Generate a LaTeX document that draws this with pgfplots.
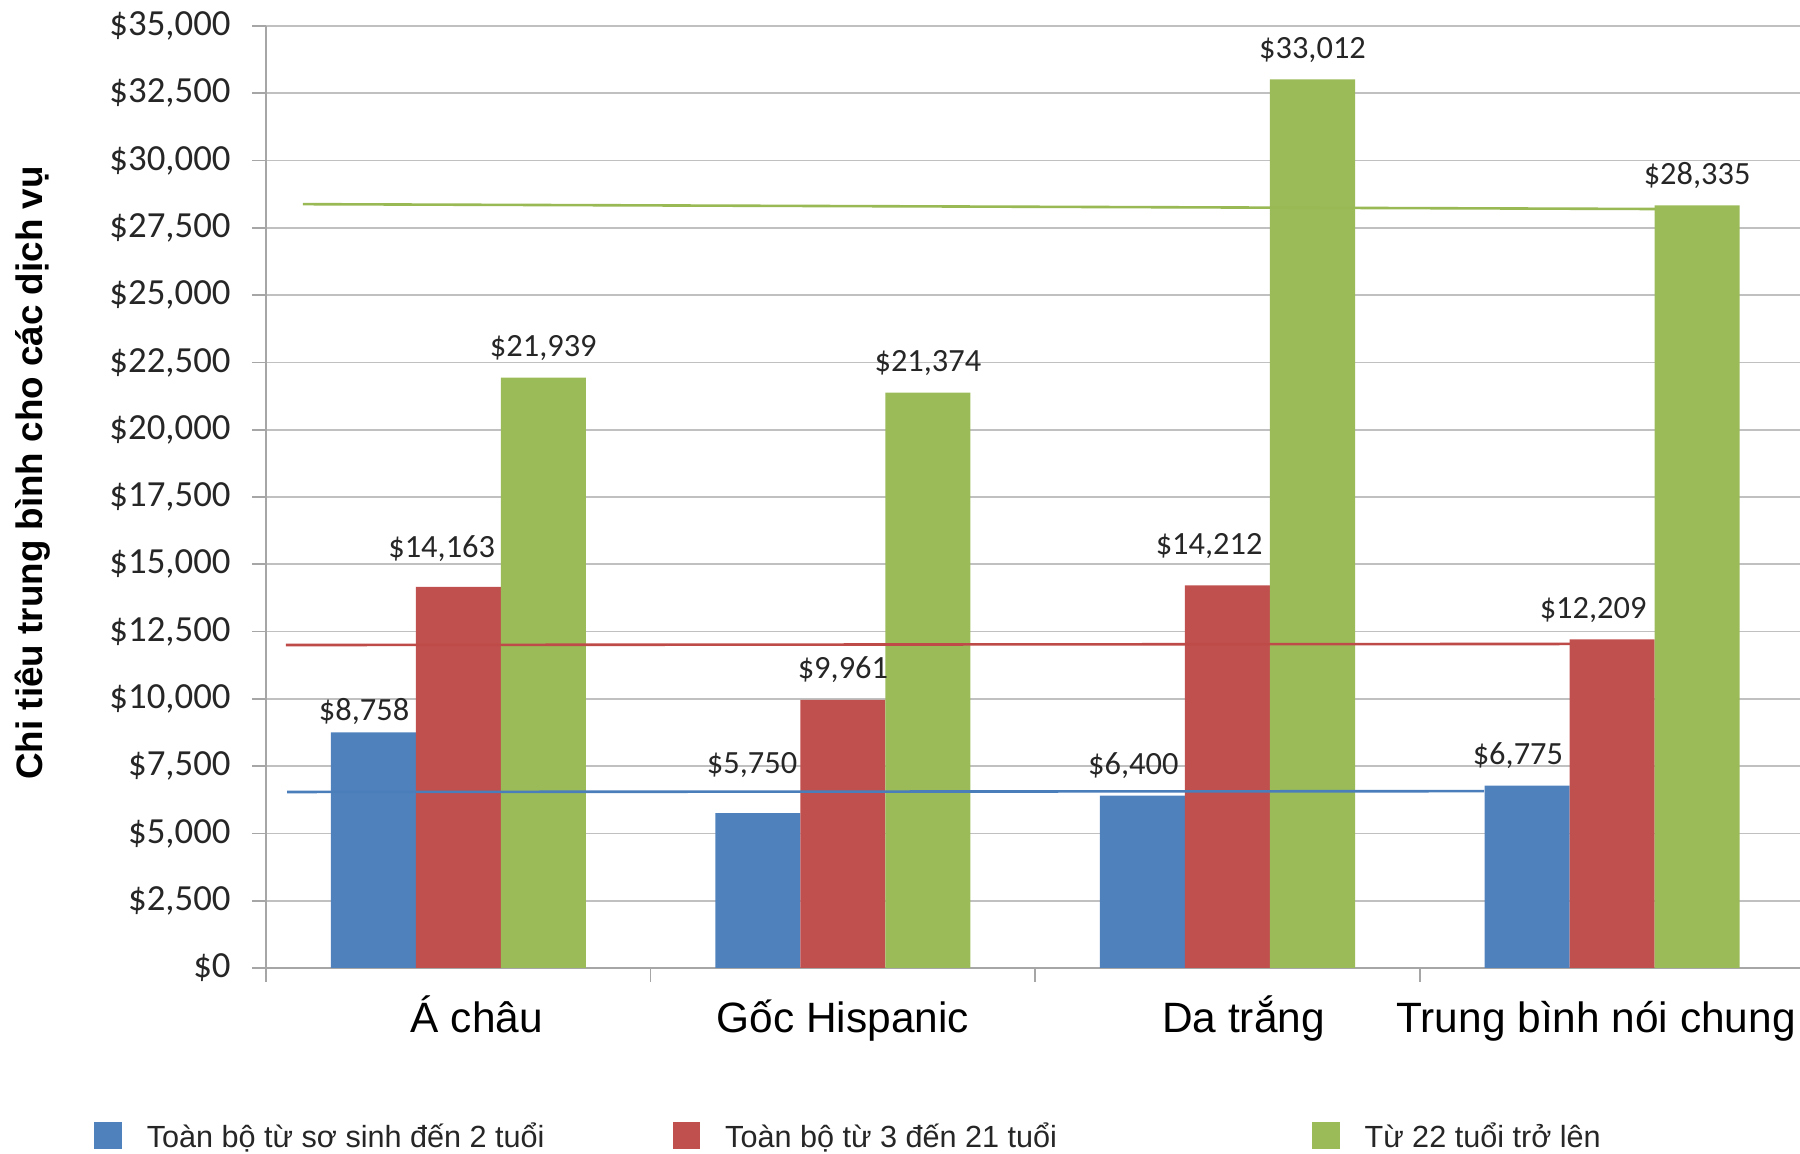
\documentclass[border=0pt]{standalone}
\usepackage{pgfplots}
\usepackage{pgfplotstable}
\pgfplotsset{compat=1.18}
\usepackage{fontspec}
\setmainfont{Liberation Sans}
\newfontfamily\calibri{Carlito}
\definecolor{cblue}{HTML}{4F81BD}
\definecolor{cred}{HTML}{C0504D}
\definecolor{cgreen}{HTML}{9BBB59}
\definecolor{gridc}{HTML}{C0C0C0}
\definecolor{axc}{HTML}{A6A6A6}
\definecolor{lblue}{HTML}{4A7EBB}
\definecolor{lred}{HTML}{BE4B48}
\definecolor{lgreen}{HTML}{98B954}
\definecolor{txt}{HTML}{262626}

% value columns a, b, c; label offsets in pt (dx, dy)
\pgfplotstableread{
x a b c dxa dya dxb dyb
0 8758 14163 21939 -4.6 -4.6 -8.3 4.0
1 5750 9961 21374 -2.9 9.2 0 0
2 6400 14212 33012 -4.6 0 -9.2 5.2
3 6775 12209 28335 -4.6 0 -9.5 0
}\datatable

\pgfplotsset{
  mybar/.style={
    ybar, bar width=42.5pt, draw=none,
    nodes near coords={\$\pgfmathprintnumber[fixed,precision=0,1000 sep={,},assume math mode=true]{\pgfplotspointmeta}},
    every node near coord/.append style={anchor=base, yshift=10.5pt, inner sep=0pt, font=\calibri\fontsize{16.2}{18}\selectfont, text=txt},
    legend image code/.code={\fill[##1] (0pt,-6pt) rectangle (13.7pt,7.8pt);}
  }
}

\begin{document}
\begin{tikzpicture}
\begin{axis}[
  at={(0pt,0pt)}, anchor=south west,
  scale only axis, width=769.2pt, height=471pt,
  xmin=-0.5, xmax=3.5, ymin=0, ymax=35000,
  axis x line*=bottom, axis y line*=left,
  axis line style={draw=axc, line width=1pt, -},
  xtick={-0.5,0.5,1.5,2.5,3.5},
  x tick label as interval,
  xticklabels={{\hspace*{18.5pt}Á châu}, {Gốc Hispanic}, {\hspace*{16pt}Da trắng}, {Trung bình nói chung\hspace*{16pt}}},
  xticklabel style={font=\fontsize{21.2}{24}\selectfont, anchor=base, yshift=-25.5pt, inner sep=0pt, text=black},
  ytick={0,2500,...,35000},
  scaled y ticks=false,
  yticklabel={\$\pgfmathprintnumber[fixed,precision=0,1000 sep={,},assume math mode=true]{\tick}},
  yticklabel style={font=\calibri\fontsize{18.4}{20}\selectfont, anchor=east, xshift=-10.5pt, inner sep=0pt, text=txt},
  tick align=outside, major tick length=7pt,
  tick style={draw=axc, line width=0.9pt},
  ymajorgrids, major grid style={draw=gridc, line width=0.9pt},
  ylabel={Chi tiêu trung bình cho các dịch vụ},
  every axis y label/.style={at={(axis description cs:-0.1456,0.5255)}, rotate=90, anchor=base, font=\bfseries\fontsize{18.4}{20}\selectfont, text=black},
  legend columns=3,
  legend style={at={(axis description cs:-0.1118,-0.1786)}, anchor=west, draw=none, fill=none, inner sep=0pt, column sep=0pt,
    nodes={inner sep=0pt, font=\fontsize{15.3}{18}\selectfont, text=txt}},
]
\addplot[mybar, fill=cblue, bar shift=-42.5pt,
  visualization depends on={\thisrow{dxa} \as \mydx},
  visualization depends on={\thisrow{dya} \as \mydy},
  every node near coord/.append style={xshift=-42.5pt, xshift=\mydx pt, yshift=\mydy pt}] table[x=x,y=a]{\datatable};
\addlegendentry{\hspace*{12.5pt}\makebox[263pt][l]{Toàn bộ từ sơ sinh đến 2 tuổi}}
\addplot[mybar, fill=cred, bar shift=0pt,
  visualization depends on={\thisrow{dxb} \as \mydx},
  visualization depends on={\thisrow{dyb} \as \mydy},
  every node near coord/.append style={xshift=\mydx pt, yshift=\mydy pt}] table[x=x,y=b]{\datatable};
\addlegendentry{\hspace*{12.5pt}\makebox[293.5pt][l]{Toàn bộ từ 3 đến 21 tuổi}}
\addplot[mybar, fill=cgreen, bar shift=42.5pt, every node near coord/.append style={xshift=42.5pt}] table[x=x,y=c]{\datatable};
\addlegendentry{\hspace*{12.5pt}Từ 22 tuổi trở lên}

\addplot[lblue, line width=1.3pt, forget plot] coordinates {(-0.445,6540) (2.667,6570)};
\addplot[lred, line width=1.3pt, forget plot] coordinates {(-0.448,12000) (2.890,12040)};
\addplot[lgreen, line width=1.3pt, forget plot] coordinates {(-0.404,28380) (3.112,28200)};
\end{axis}
\pgfresetboundingbox
\useasboundingbox (-133pt,-93pt) rectangle (767pt,484pt);
\end{tikzpicture}
\end{document}
